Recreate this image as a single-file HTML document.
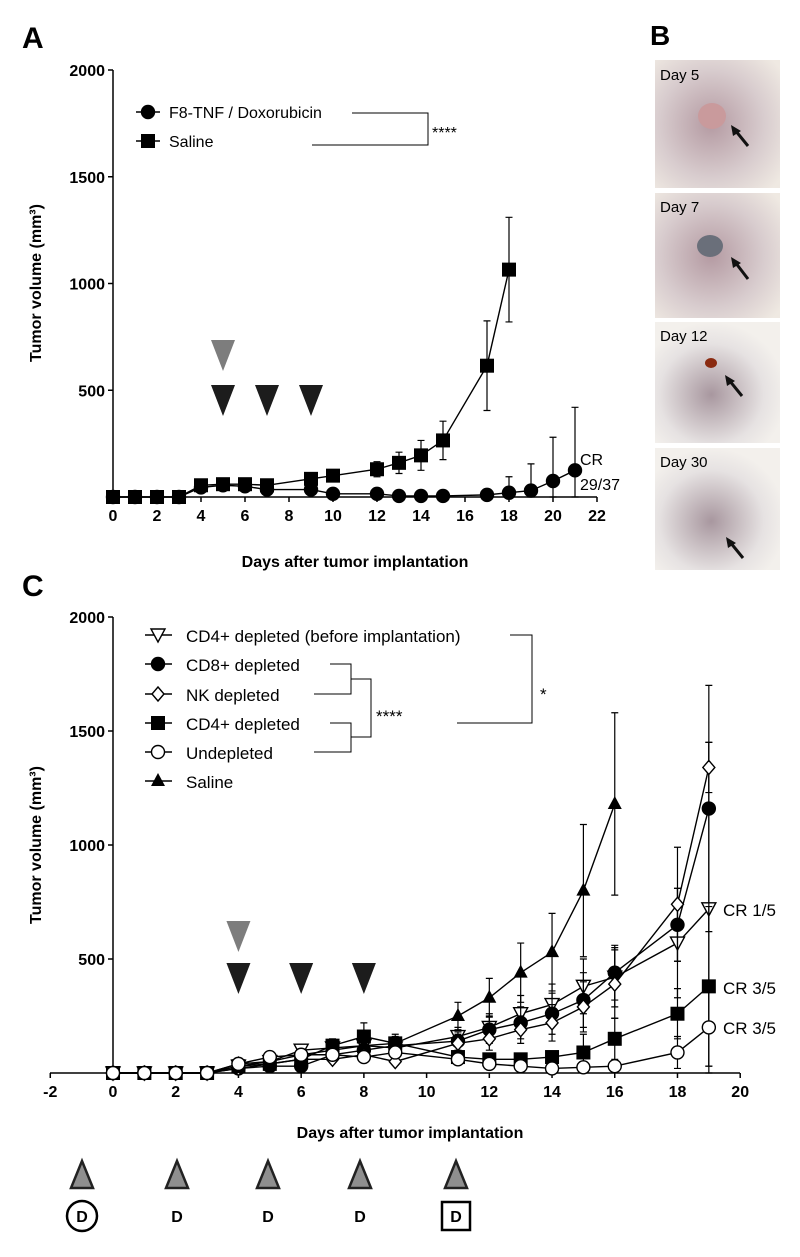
<!DOCTYPE html>
<html><head><meta charset="utf-8"><style>
body{margin:0;background:#fff}
svg{display:block;font-family:"Liberation Sans",Arial,sans-serif}
</style></head><body>
<svg id="fig" width="800" height="1257" viewBox="0 0 800 1257">
<defs>
<radialGradient id="skin" cx="45%" cy="50%" r="70%"><stop offset="0" stop-color="#b49aa2"/><stop offset="0.6" stop-color="#d8ccce"/><stop offset="1" stop-color="#efe9e2"/></radialGradient>
<radialGradient id="skin2" cx="45%" cy="60%" r="60%"><stop offset="0" stop-color="#a8979f"/><stop offset="0.7" stop-color="#e6e2e2"/><stop offset="1" stop-color="#f3f0ec"/></radialGradient>
</defs>
<text x="22" y="48" font-size="30" font-weight="bold">A</text>
<text x="650" y="45" font-size="28" font-weight="bold">B</text>
<text x="22" y="596" font-size="30" font-weight="bold">C</text>
<g id="photos">
 <g><rect x="655" y="60" width="125" height="128" fill="url(#skin)"/><ellipse cx="712" cy="116" rx="14" ry="13" fill="#c99a9c"/><line x1="748" y1="146" x2="735" y2="130" stroke="#111" stroke-width="3"/><polygon points="731,125 741,131 733,136" fill="#111"/><text x="660" y="80" font-size="15">Day 5</text></g>
 <g><rect x="655" y="193" width="125" height="125" fill="url(#skin)"/><ellipse cx="710" cy="246" rx="13" ry="11" fill="#6a6f7a"/><line x1="748" y1="279" x2="735" y2="262" stroke="#111" stroke-width="3"/><polygon points="731,257 741,263 733,268" fill="#111"/><text x="660" y="212" font-size="15">Day 7</text></g>
 <g><rect x="655" y="322" width="125" height="121" fill="url(#skin2)"/><ellipse cx="711" cy="363" rx="6" ry="5" fill="#8a2a10"/><line x1="742" y1="396" x2="729" y2="380" stroke="#111" stroke-width="3"/><polygon points="725,375 735,381 727,386" fill="#111"/><text x="660" y="341" font-size="15">Day 12</text></g>
 <g><rect x="655" y="448" width="125" height="122" fill="url(#skin2)"/><line x1="743" y1="558" x2="730" y2="542" stroke="#111" stroke-width="3"/><polygon points="726,537 736,543 728,548" fill="#111"/><text x="660" y="467" font-size="15">Day 30</text></g>
</g>
<g id="chartA"></g>
<g id="chartC"></g>
<g id="schedule"></g>
</svg>
<script>
// ---------- Panel A data ----------
const aYTicks = [500, 1000, 1500, 2000];
const aXTicks = [0,2,4,6,8,10,12,14,16,18,20,22];
const aSalineDays = [0,1,2,3,4,5,6,7,9,10,12,13,14,15,17,18];
const aSalineVals = [0,0,0,0,55,60,60,55,85,100,130,160,195,265,615,1065];
const aSalineErr  = [0,0,0,0,10,10,10,10,15,15,35,50,70,90,210,245];
const aF8Days = [0,1,2,3,4,5,6,7,9,10,12,13,14,15,17,18,19,20,21];
const aF8Vals = [0,0,0,0,45,55,50,35,35,15,15,5,5,5,10,20,30,75,125];
const aF8Err  = [0,0,0,0,10,10,10,8,8,5,5,3,3,3,10,75,125,205,295];
const aGrayArrowDays = [5];
const aBlackArrowDays = [5,7,9];

// ---------- Panel C data ----------
const cYTicks = [500,1000,1500,2000];
const cXTicks = [-2,0,2,4,6,8,10,12,14,16,18,20];
const cDaysLong = [0,1,2,3,4,5,6,7,8,9,11,12,13,14,15,16,18,19];
const cDaysSaline = [0,1,2,3,4,5,6,7,8,9,11,12,13,14,15,16];
const cSalineVals = [0,0,0,0,40,50,80,100,120,130,250,330,440,530,800,1180];
const cSalineErr  = [0,0,0,0,10,10,15,20,25,30,60,85,130,170,290,400];
const cCD4bVals = [0,0,0,0,30,50,100,110,120,110,160,200,260,300,380,420,570,720];
const cCD4bErr  = [0,0,0,0,10,10,20,25,30,30,40,60,80,90,120,130,240,730];
const cCD8Vals = [0,0,0,0,20,30,30,80,100,120,140,190,220,260,320,440,650,1160];
const cCD8Err  = [0,0,0,0,8,10,10,20,30,30,40,60,70,90,120,120,160,540];
const cNKVals  = [0,0,0,0,20,40,60,60,80,50,130,150,190,220,290,390,740,1340];
const cNKErr   = [0,0,0,0,8,10,15,15,20,15,40,50,60,80,110,150,250,110];
const cCD4Vals = [0,0,0,0,30,40,60,120,160,130,70,60,60,70,90,150,260,380];
const cCD4Err  = [0,0,0,0,8,10,15,30,60,40,20,20,20,25,80,90,110,350];
const cUndVals = [0,0,0,0,40,70,80,80,70,90,60,40,30,20,25,30,90,200];
const cUndErr  = [0,0,0,0,10,10,15,15,15,20,15,10,10,10,10,20,70,170];
const cGrayArrowDays = [4];
const cBlackArrowDays = [4,6,8];

// ---------- schedule ----------
const schedX = [82,177,268,360,456];

const NS='http://www.w3.org/2000/svg';
function mk(parent, tag, attrs){const e=document.createElementNS(NS,tag);for(const k in attrs)e.setAttribute(k,attrs[k]);parent.appendChild(e);return e;}

function marker(g, type, x, y){
  let e;
  if(type==='circle'||type==='ocircle'){e=mk(g,'circle',{cx:x,cy:y,r:6.5,fill:type==='circle'?'#000':'#fff',stroke:'#000','stroke-width':1.4});}
  else if(type==='square'){e=mk(g,'rect',{x:x-7,y:y-7,width:14,height:14,fill:'#000'});}
  else if(type==='tri'){e=mk(g,'polygon',{points:`${x},${y-8} ${x+7},${y+5} ${x-7},${y+5}`,fill:'#000'});}
  else if(type==='itri'){e=mk(g,'polygon',{points:`${x-7},${y-6} ${x+7},${y-6} ${x},${y+7}`,fill:'#fff',stroke:'#000','stroke-width':1.4});}
  else if(type==='diamond'){e=mk(g,'polygon',{points:`${x},${y-7} ${x+6},${y} ${x},${y+7} ${x-6},${y}`,fill:'#fff',stroke:'#000','stroke-width':1.4});}
  
  
  return e;
}

function drawSeries(root, name, days, vals, errs, sx, sy, type){
  const g=mk(root,'g',{});
  
  
  for(let i=0;i<days.length;i++){
    if(errs[i]>0){
      const x=sx(days[i]);
      const ln=mk(g,'path',{d:`M${x},${sy(Math.max(0,vals[i]-errs[i]))}V${sy(vals[i]+errs[i])}M${x-3.5},${sy(vals[i]+errs[i])}h7M${x-3.5},${sy(Math.max(0,vals[i]-errs[i]))}h7`,stroke:'#000','stroke-width':1.2,fill:'none'});
      
      
    }
  }
  const pl=mk(g,'polyline',{points:days.map((d,i)=>sx(d)+','+sy(vals[i])).join(' '),fill:'none',stroke:'#000','stroke-width':1.4});
  
  
  days.forEach((d,i)=>marker(g,type,sx(d),sy(vals[i])));
}

function axes(root, sx, sy, xTicks, yTicks, xStart, x1, yTop){
  const g=mk(root,'g',{});
  
  
  const yAx=sx(0);
  mk(g,'line',{x1:xStart,y1:sy(0),x2:x1,y2:sy(0),stroke:'#000','stroke-width':1.5});
  mk(g,'line',{x1:yAx,y1:sy(0),x2:yAx,y2:yTop,stroke:'#000','stroke-width':1.5});
  xTicks.forEach(t=>{
    mk(g,'line',{x1:sx(t),y1:sy(0),x2:sx(t),y2:sy(0)+5,stroke:'#000','stroke-width':1.5});
    const tx=mk(g,'text',{x:sx(t),y:sy(0)+24,'font-size':16,'font-weight':'bold','text-anchor':'middle'});
    tx.textContent=t;
    
    
  });
  yTicks.forEach(t=>{
    mk(g,'line',{x1:yAx-5,y1:sy(t),x2:yAx,y2:sy(t),stroke:'#000','stroke-width':1.5});
    const tx=mk(g,'text',{x:yAx-8,y:sy(t)+6,'font-size':16,'font-weight':'bold','text-anchor':'end'});
    tx.textContent=t;
    
    
  });
}
function txt(root,name,x,y,s,size,attrs){const t=mk(root,'text',Object.assign({x:x,y:y,'font-size':size},attrs||{}));t.textContent=s;return t;}
function arrow(root,x,y,fill){const p=mk(root,'polygon',{points:`${x-12},${y} ${x+12},${y} ${x},${y+31}`,fill:fill});}

// ---------- Panel A ----------
(function(){
  const root=document.getElementById('chartA');
  
  const sx=d=>113+d*22, sy=v=>497-v*0.2135;
  axes(root,sx,sy,aXTicks,aYTicks,113,597,70);
  drawSeries(root,'series-saline',aSalineDays,aSalineVals,aSalineErr,sx,sy,'square');
  drawSeries(root,'series-f8tnf-doxorubicin',aF8Days,aF8Vals,aF8Err,sx,sy,'circle');
  aGrayArrowDays.forEach(d=>arrow(root,sx(d),340,'#7d7d7d'));
  aBlackArrowDays.forEach(d=>arrow(root,sx(d),385,'#1c1c1c'));
  txt(root,'x-axis-title',355,567,'Days after tumor implantation',16,{'font-weight':'bold','text-anchor':'middle'});
  txt(root,'y-axis-title',0,0,'Tumor volume (mm³)',16,{'font-weight':'bold','text-anchor':'middle',transform:'translate(41,283) rotate(-90)'});
  const lg=mk(root,'g',{});
  mk(lg,'line',{x1:136,y1:112,x2:160,y2:112,stroke:'#000','stroke-width':1.4});marker(lg,'circle',148,112);
  mk(lg,'line',{x1:136,y1:141,x2:160,y2:141,stroke:'#000','stroke-width':1.4});marker(lg,'square',148,141);
  txt(lg,'legend-entry',169,118,'F8-TNF / Doxorubicin',16);
  txt(lg,'legend-entry',169,147,'Saline',16);
  mk(lg,'path',{d:'M352,113H428V145H312',fill:'none',stroke:'#000','stroke-width':1});
  txt(lg,'significance-stars',432,138,'****',16);
  txt(root,'cr-label',580,465,'CR',16);
  txt(root,'cr-label',580,490,'29/37',16);
})();

// ---------- Panel C ----------
(function(){
  const root=document.getElementById('chartC');
  
  const sx=d=>113+d*31.36, sy=v=>1073-v*0.228;
  axes(root,sx,sy,cXTicks,cYTicks,50,740,617);
  drawSeries(root,'series-saline',cDaysSaline,cSalineVals,cSalineErr,sx,sy,'tri');
  drawSeries(root,'series-cd4-before',cDaysLong,cCD4bVals,cCD4bErr,sx,sy,'itri');
  drawSeries(root,'series-cd8-depleted',cDaysLong,cCD8Vals,cCD8Err,sx,sy,'circle');
  drawSeries(root,'series-nk-depleted',cDaysLong,cNKVals,cNKErr,sx,sy,'diamond');
  drawSeries(root,'series-cd4-depleted',cDaysLong,cCD4Vals,cCD4Err,sx,sy,'square');
  drawSeries(root,'series-undepleted',cDaysLong,cUndVals,cUndErr,sx,sy,'ocircle');
  cGrayArrowDays.forEach(d=>arrow(root,sx(d),921,'#7d7d7d'));
  cBlackArrowDays.forEach(d=>arrow(root,sx(d),963,'#1c1c1c'));
  txt(root,'x-axis-title',410,1138,'Days after tumor implantation',16,{'font-weight':'bold','text-anchor':'middle'});
  txt(root,'y-axis-title',0,0,'Tumor volume (mm³)',16,{'font-weight':'bold','text-anchor':'middle',transform:'translate(41,845) rotate(-90)'});
  const lg=mk(root,'g',{});
  const names=['CD4+ depleted (before implantation)','CD8+ depleted','NK depleted','CD4+ depleted','Undepleted','Saline'];
  const types=['itri','circle','diamond','square','ocircle','tri'];
  const rows=[635,664,694,723,752,781];
  names.forEach((n,i)=>{mk(lg,'line',{x1:145,y1:rows[i],x2:172,y2:rows[i],stroke:'#000','stroke-width':1.4});marker(lg,types[i],158,rows[i]);txt(lg,'legend-entry',186,rows[i]+7,n,17);});
  mk(lg,'path',{d:'M510,635H532V723H457',fill:'none',stroke:'#000','stroke-width':1});
  mk(lg,'path',{d:'M330,664H351V694H314M351,679H371V737H351M330,723H351V752H314',fill:'none',stroke:'#000','stroke-width':1});
  txt(lg,'significance-stars',376,722,'****',17);
  txt(lg,'significance-stars',540,700,'*',17);
  txt(root,'cr-label',723,916,'CR 1/5',17);
  txt(root,'cr-label',723,994,'CR 3/5',17);
  txt(root,'cr-label',723,1034,'CR 3/5',17);
})();

// ---------- schedule ----------
(function(){
  const root=document.getElementById('schedule');
  
  schedX.forEach((x,i)=>{
    const p=mk(root,'polygon',{points:`${x},1161 ${x+11},1188 ${x-11},1188`,fill:'#8f8f8f',stroke:'#222','stroke-width':2.5});
    
    
    txt(root,'dose-label',x,1222,'D',16,{'font-weight':'bold','text-anchor':'middle'});
    if(i===0){const c=mk(root,'circle',{cx:x,cy:1216,r:15,fill:'none',stroke:'#000','stroke-width':2.5});}
    if(i===schedX.length-1){const r=mk(root,'rect',{x:x-14,y:1202,width:28,height:28,fill:'none',stroke:'#000','stroke-width':2.5});}
  });
})();
</script>
</body></html>
